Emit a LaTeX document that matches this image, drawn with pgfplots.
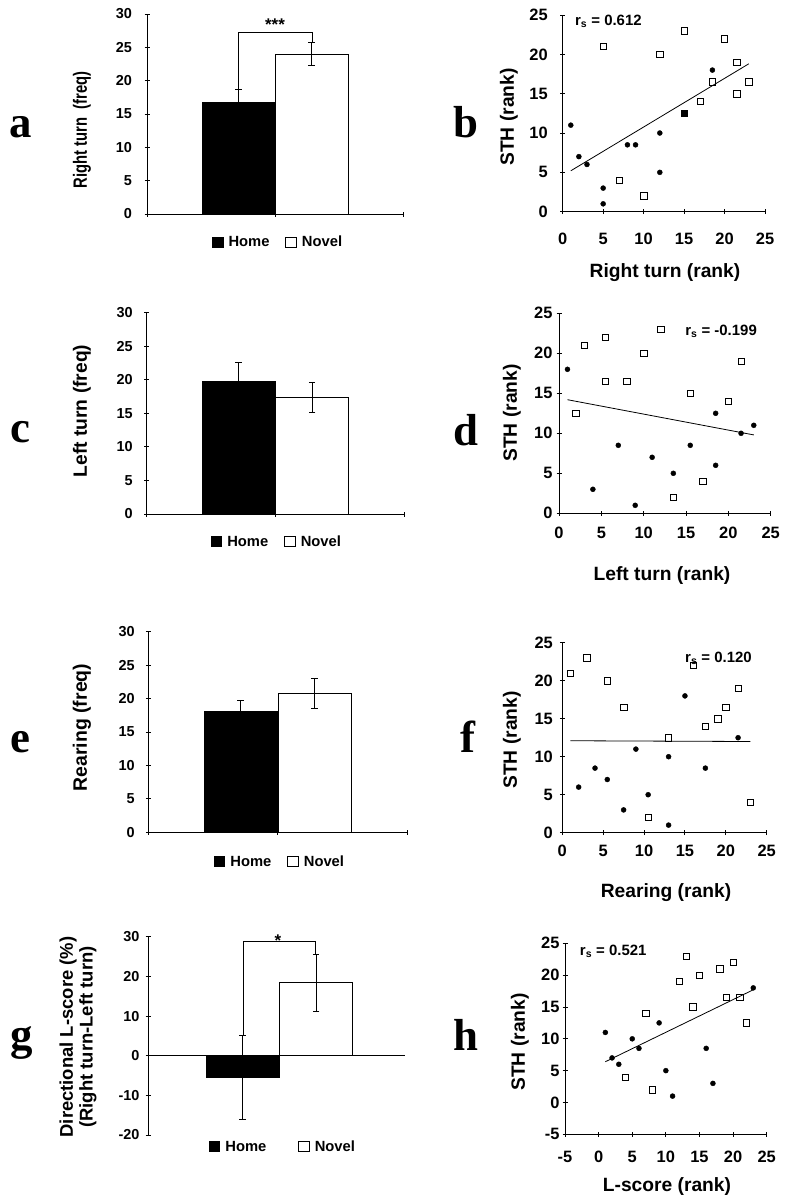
\documentclass[border=0pt]{standalone}
\usepackage{fontspec}
\setmainfont{Liberation Sans}
\newfontfamily\serifbf{Liberation Serif}
\usepackage{graphicx}
\usepackage{pgfplots}
\pgfplotsset{compat=1.18}
\newcommand\btickf{\fontsize{14.5}{14.5}\selectfont\bfseries}
\newcommand\stickf{\fontsize{16.5}{16.5}\selectfont\bfseries}
\newcommand\slabf{\fontsize{19.3}{19.3}\selectfont\bfseries}
\newcommand\legf{\fontsize{14.8}{14.8}\selectfont\bfseries}
\newcommand\rsf{\fontsize{15}{15}\selectfont\bfseries}
\newcommand\letf{\serifbf\bfseries\fontsize{45}{45}\selectfont}
\pgfplotsset{
  base/.style={scale only axis, anchor=south west, clip=false,
    every tick/.style={black, line width=0.9bp},
    tick align=outside, major tick length=5bp,
    /pgf/number format/assume math mode=true,
    hide obscured x ticks=false, hide obscured y ticks=false},
  nolines/.style={axis line style={-, line width=0.9bp, black},
    every outer x axis line/.append style={-},
    every outer y axis line/.append style={-},
    every inner x axis line/.append style={-},
    every inner y axis line/.append style={-},
    x axis line style={-}, y axis line style={-}},
  barax/.style={base, axis y line=left, xmin=0, xmax=3.5, ymin=0, ymax=30,
    tick label style={font=\btickf},
    ytick={0,5,...,30}, xtick={0,1.75,3.5}, xticklabels={},
    legend image code/.code={\draw[##1, line width=0.6bp] (0bp,-4.8bp) rectangle (10.5bp,5.2bp); \path (14bp,0bp);},
    legend style={draw=none, fill=none, legend columns=2, anchor=center, font=\legf,
      /tikz/every even column/.append style={column sep=14bp}}},
  scatax/.style={base, axis x line=bottom, axis y line=left, xmin=0, xmax=25, ymin=0, ymax=25,
    tick label style={font=\stickf},
    xtick={0,5,...,25}, ytick={0,5,...,25}},
  hbar/.style={ybar, bar width=73bp, bar shift=0pt, fill=black, draw=black, line width=0.6bp,
    error bars/.cd, y dir=both, y explicit, error bar style={line width=0.9bp, black},
    error mark options={rotate=90, mark size=3.3bp, line width=0.9bp, black}},
  nbar/.style={ybar, bar width=73bp, bar shift=0pt, fill=white, draw=black, line width=0.6bp,
    error bars/.cd, y dir=both, y explicit, error bar style={line width=0.9bp, black},
    error mark options={rotate=90, mark size=3.3bp, line width=0.9bp, black}},
  homepts/.style={only marks, mark=*, mark size=2.5bp, black},
  novpts/.style={only marks, mark=square, mark size=3.2bp, black, mark options={fill=white, line width=0.6bp}},
  fitl/.style={black, line width=0.8bp, no marks},
}
\begin{document}
\begin{tikzpicture}
\path[use as bounding box, fill=white] (0bp,0bp) rectangle (786bp,-1199bp);

% ---------- a ----------
\begin{axis}[barax, axis x line=bottom, nolines, at={(147bp,-214bp)}, width=256bp, height=200bp,
  yticklabel shift=9bp, legend style={at={(0.512,-0.14)}}]
\addplot[forget plot, hbar] coordinates {(1.25,16.7) +- (0,2.0)};
\addplot[forget plot, nbar] coordinates {(2.25,24.0) +- (0,1.75)};
\addplot[forget plot, black, line width=0.8bp] coordinates {(1.25,18.7) (1.25,27.3) (2.265,27.3) (2.265,25.75)};
\node[font=\fontsize{17}{17}\selectfont\bfseries, anchor=base] at (axis cs:1.75,27.5) {***};
\addlegendimage{fill=black, draw=black}\addlegendentry{Home}
\addlegendimage{fill=white, draw=black}\addlegendentry{Novel}
\end{axis}

% ---------- c ----------
\begin{axis}[barax, axis x line=bottom, nolines, at={(146.7bp,-514bp)}, width=257.3bp, height=201.3bp,
  yticklabel shift=8bp, legend style={at={(0.506,-0.138)}}]
\addplot[forget plot, hbar] coordinates {(1.25,19.8) +- (0,2.85)};
\addplot[forget plot, nbar] coordinates {(2.25,17.4) +- (0,2.25)};
\addlegendimage{fill=black, draw=black}\addlegendentry{Home}
\addlegendimage{fill=white, draw=black}\addlegendentry{Novel}
\end{axis}

% ---------- e ----------
\begin{axis}[barax, axis x line=bottom, nolines, at={(148.3bp,-832.3bp)}, width=258.7bp, height=200.6bp,
  yticklabel shift=7.5bp, legend style={at={(0.509,-0.147)}}]
\addplot[forget plot, hbar] coordinates {(1.25,18.1) +- (0,1.6)};
\addplot[forget plot, nbar] coordinates {(2.25,20.8) +- (0,2.25)};
\addlegendimage{fill=black, draw=black}\addlegendentry{Home}
\addlegendimage{fill=white, draw=black}\addlegendentry{Novel}
\end{axis}

% ---------- g ----------
\begin{axis}[barax, axis x line=middle, nolines, at={(148bp,-1135bp)}, width=257bp, height=198.3bp,
  ymin=-20, ymax=30, ytick={-20,-10,...,30}, xtick=\empty, yticklabel shift=2.5bp,
  legend style={at={(0.525,-0.059)}, /tikz/every even column/.append style={column sep=30bp}}]
\addplot[forget plot, hbar] coordinates {(1.29,-5.4) +- (0,10.6)};
\addplot[forget plot, nbar] coordinates {(2.29,18.4) +- (0,7.2)};
\addplot[forget plot, black, line width=0.8bp] coordinates {(1.30,5.2) (1.30,28.9) (2.28,28.9) (2.28,25.5)};
\node[font=\fontsize{17}{17}\selectfont\bfseries, anchor=base] at (axis cs:1.77,27.6) {*};
\addlegendimage{fill=black, draw=black}\addlegendentry{Home}
\addlegendimage{fill=white, draw=black}\addlegendentry{Novel}
\end{axis}

% ---------- b ----------
\begin{axis}[scatax, nolines, at={(562.7bp,-211.7bp)}, width=202.3bp, height=196.7bp,
  xticklabel shift=15bp, yticklabel shift=9bp]
\addplot[fitl] coordinates {(1,5.2) (23,18.8)};
\addplot[homepts] coordinates {(1,11) (2,7) (3,6) (5,3) (5,1) (8,8.5) (9,8.5) (12,10) (12,5) (18.5,18)};
\addplot[novpts] coordinates {(5,21) (7,4) (10,2) (12,20) (15,23) (17,14) (18.5,16.5) (20,22) (21.5,19) (21.5,15) (23,16.5)};
\addplot[only marks, mark=square*, mark size=3.2bp, black] coordinates {(15,12.5)};
\node[font=\rsf, anchor=west] at (axis cs:1.1,24.2) {r\textsubscript{s} = 0.612};
\end{axis}

% ---------- d ----------
\begin{axis}[scatax, nolines, at={(559bp,-513.3bp)}, width=211.7bp, height=200bp,
  xticklabel shift=8bp, yticklabel shift=0.5bp]
\addplot[fitl] coordinates {(1,14.2) (23,9.8)};
\addplot[homepts] coordinates {(1,18) (4,3) (7,8.5) (9,1) (11,7) (13.5,5) (15.5,8.5) (18.5,12.5) (18.5,6) (21.5,10) (23,11)};
\addplot[novpts] coordinates {(2,12.5) (3,21) (5.5,22) (5.5,16.5) (8,16.5) (10,20) (12,23) (15.5,15) (13.5,2) (17,4) (20,14) (21.5,19)};
\node[font=\rsf, anchor=west] at (axis cs:14.5,22.7) {r\textsubscript{s} = -0.199};
\end{axis}

% ---------- f ----------
\begin{axis}[scatax, nolines, at={(562.3bp,-832.7bp)}, width=204.4bp, height=190bp,
  xticklabel shift=6bp, yticklabel shift=3.5bp]
\addplot[fitl] coordinates {(1,12.1) (23,12.0)};
\addplot[homepts] coordinates {(2,6) (4,8.5) (5.5,7) (7.5,3) (9,11) (10.5,5) (13,10) (13,1) (15,18) (17.5,8.5) (21.5,12.5)};
\addplot[novpts] coordinates {(1,21) (3,23) (5.5,20) (7.5,16.5) (10.5,2) (13,12.5) (16,22) (17.5,14) (19,15) (20,16.5) (21.5,19) (23,4)};
\node[font=\rsf, anchor=west] at (axis cs:14.6,23.0) {r\textsubscript{s} = 0.120};
\end{axis}

% ---------- h ----------
\begin{axis}[scatax, nolines, at={(565bp,-1134.3bp)}, width=201.7bp, height=191bp,
  xmin=-5, ymin=-5, xtick={-5,0,...,25}, ytick={-5,0,...,25},
  xticklabel shift=11bp, yticklabel shift=-0.5bp]
\addplot[fitl] coordinates {(1,6.4) (23,17.7)};
\addplot[homepts] coordinates {(1,11) (2,7) (3,6) (5,10) (6,8.5) (9,12.5) (10,5) (11,1) (16,8.5) (17,3) (23,18)};
\addplot[novpts] coordinates {(4,4) (7,14) (8,2) (12,19) (13,23) (14,15) (15,20) (18,21) (19,16.5) (20,22) (21,16.5) (22,12.5)};
\node[font=\rsf, anchor=west] at (axis cs:-3.3,23.7) {r\textsubscript{s} = 0.521};
\end{axis}

% ---------- labels ----------
\node[rotate=90, font=\fontsize{19.3}{19.3}\selectfont\bfseries] at (82bp,-130bp) {\scalebox{0.77}[1]{Right turn\ \ (freq)}};
\node[rotate=90, font=\fontsize{19.3}{19.3}\selectfont\bfseries] at (82bp,-411bp) {Left turn (freq)};
\node[rotate=90, font=\fontsize{19.5}{19.5}\selectfont\bfseries] at (82bp,-727.5bp) {Rearing (freq)};
\node[rotate=90, font=\fontsize{18.5}{18.5}\selectfont\bfseries] at (68bp,-1037bp) {Directional L-score (\%)};
\node[rotate=90, font=\fontsize{18.5}{18.5}\selectfont\bfseries] at (88bp,-1037bp) {(Right turn-Left turn)};

\node[rotate=90, font=\slabf] at (509bp,-117bp) {STH (rank)};
\node[rotate=90, font=\slabf] at (512bp,-413bp) {STH (rank)};
\node[rotate=90, font=\slabf] at (512bp,-740bp) {STH (rank)};
\node[rotate=90, font=\slabf] at (520bp,-1042bp) {STH (rank)};
\node[font=\slabf] at (665bp,-273bp) {Right turn (rank)};
\node[font=\slabf] at (662bp,-576bp) {Left turn (rank)};
\node[font=\slabf] at (666bp,-893bp) {Rearing (rank)};
\node[font=\slabf] at (667bp,-1187bp) {L-score (rank)};

\node[font=\letf, anchor=base] at (21bp,-137bp) {a};
\node[font=\letf, anchor=base] at (466bp,-137bp) {b};
\node[font=\letf, anchor=base] at (20bp,-442bp) {c};
\node[font=\letf, anchor=base] at (466bp,-445bp) {d};
\node[font=\letf, anchor=base] at (20bp,-752bp) {e};
\node[font=\letf, anchor=base] at (468bp,-752bp) {f};
\node[font=\letf, anchor=base] at (22bp,-1049bp) {g};
\node[font=\letf, anchor=base] at (466bp,-1050bp) {h};
\end{tikzpicture}
\end{document}
